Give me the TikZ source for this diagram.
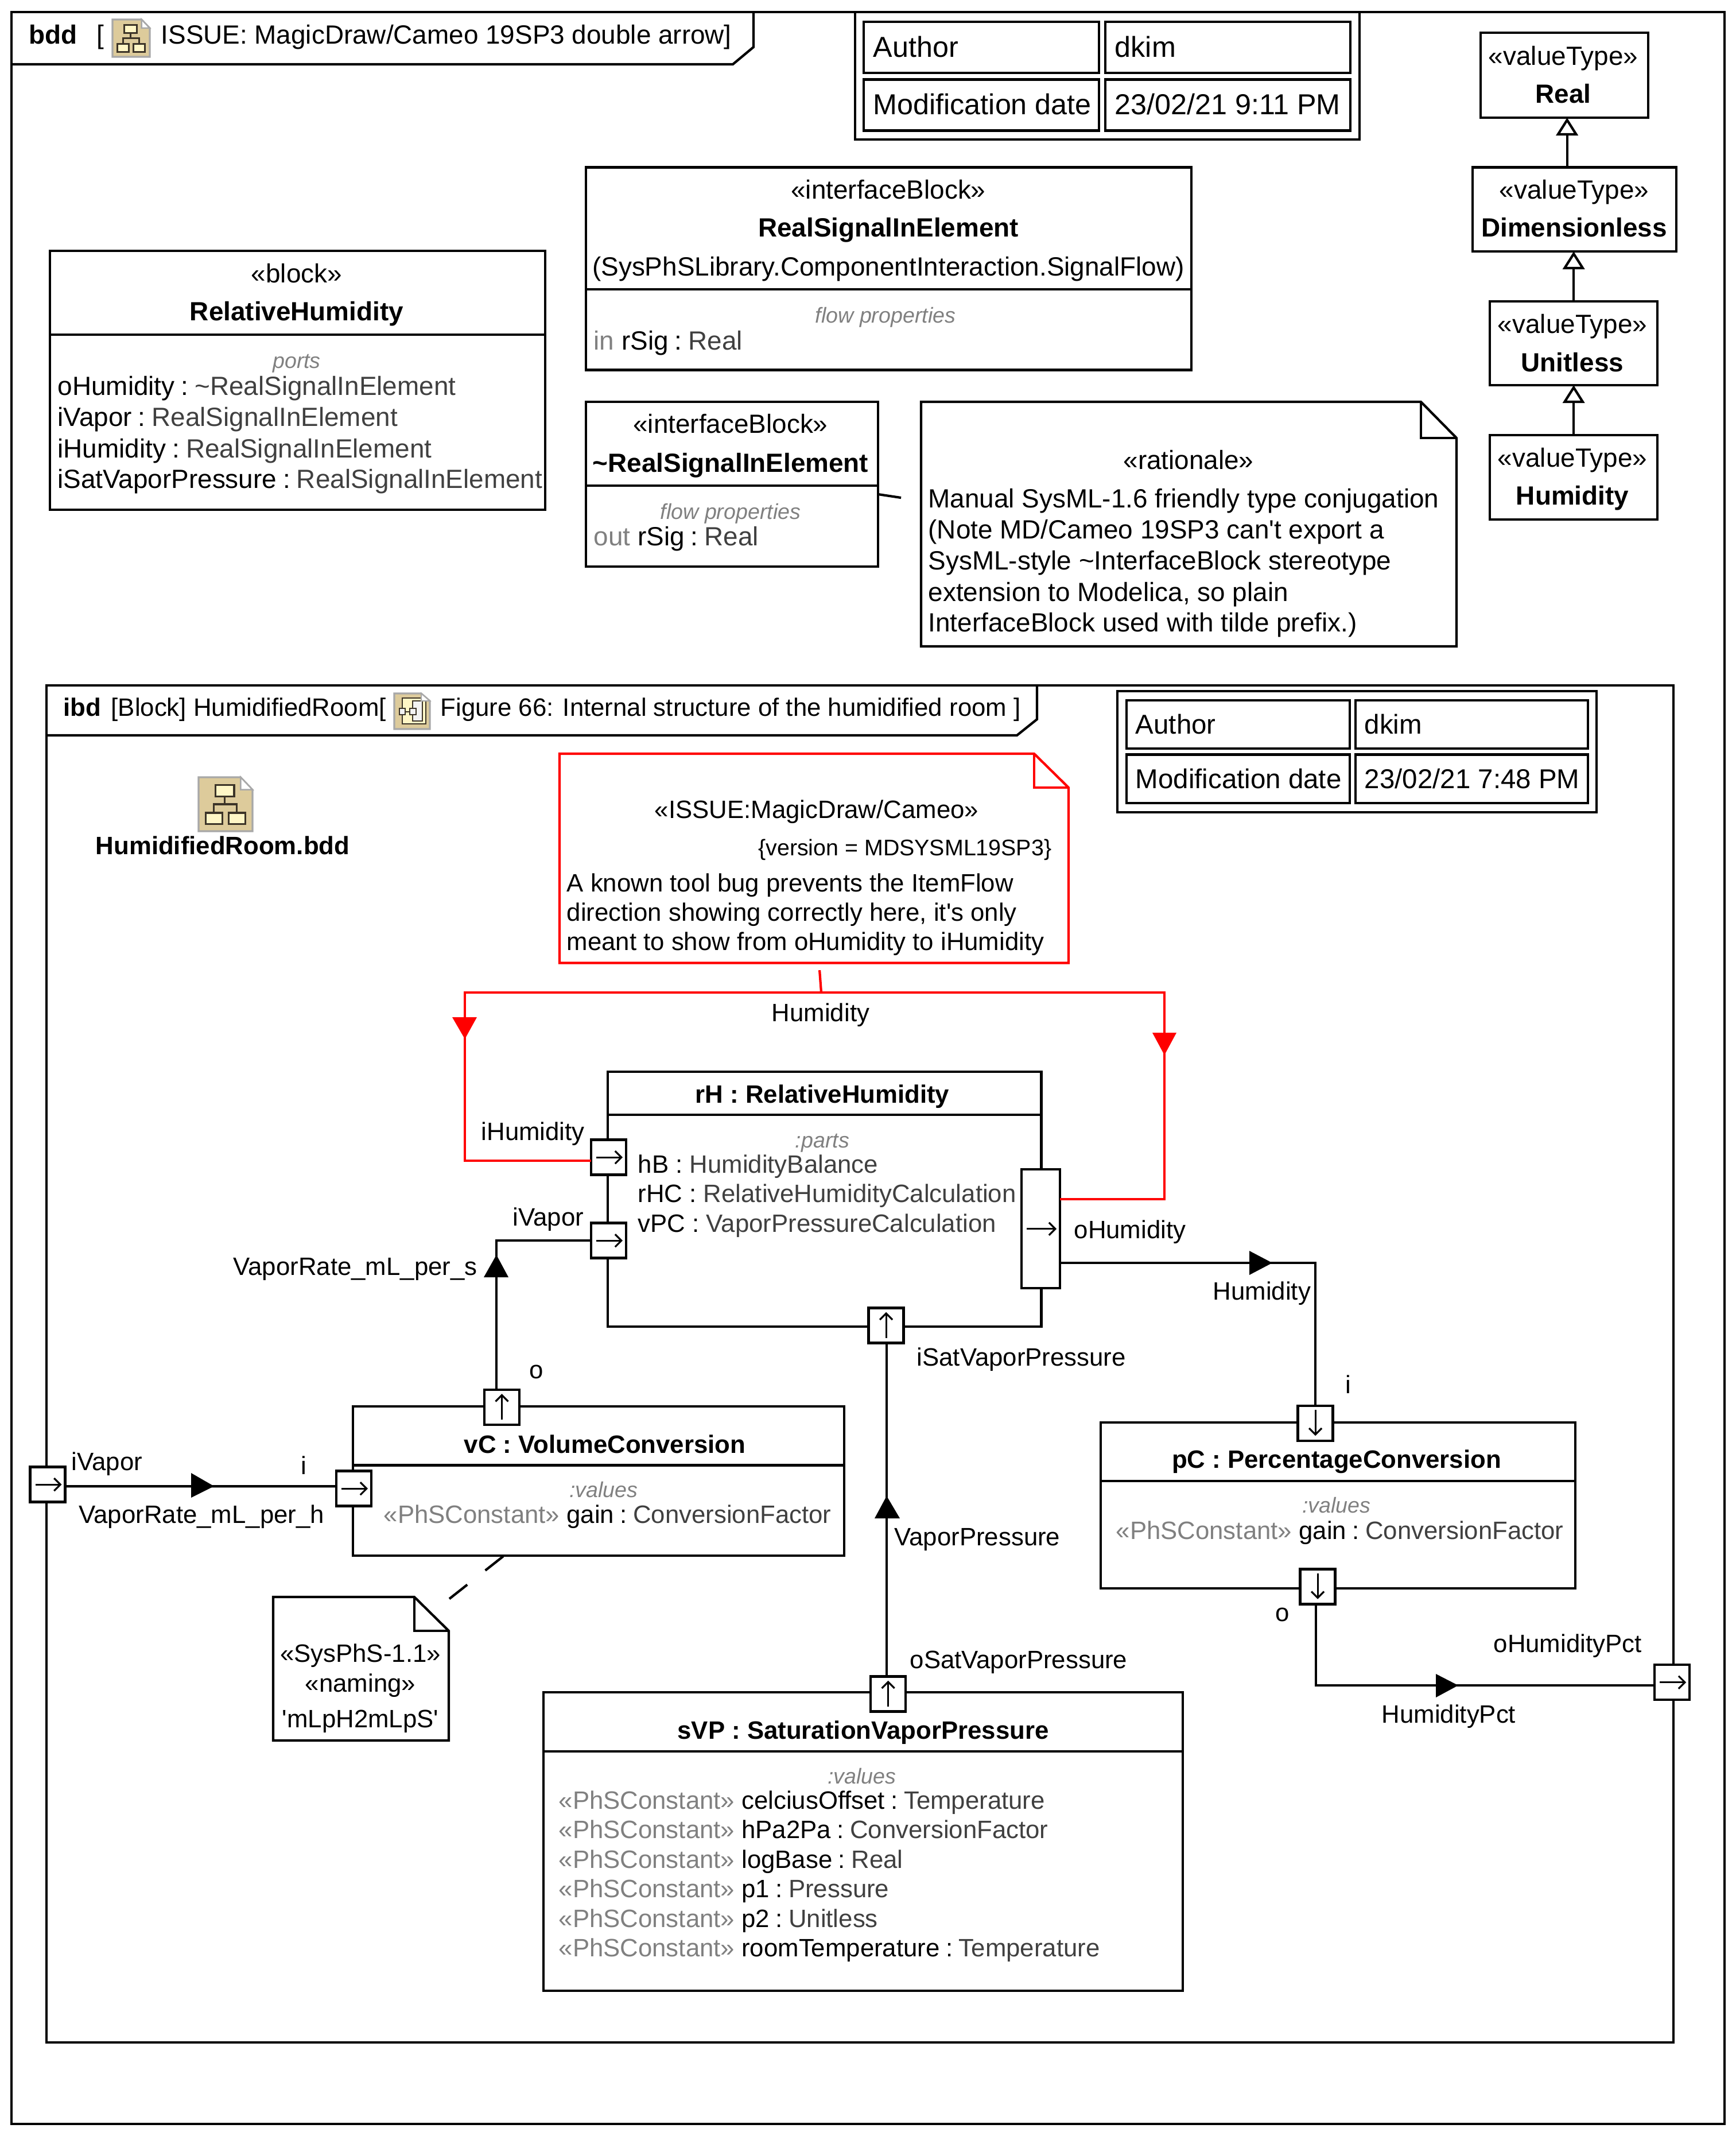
\documentclass[tikz,border=0pt]{standalone}
\usepackage{fontspec}
\setmainfont{Liberation Sans}
\usetikzlibrary{arrows.meta}
\definecolor{tygray}{HTML}{404040}
\definecolor{kwgray}{HTML}{808080}
\definecolor{icontan}{HTML}{DDCB9B}
\definecolor{iconedge}{HTML}{A8A8A8}
\definecolor{iconbox}{HTML}{FFF6C6}
\definecolor{iconline}{HTML}{3C3428}
\newcommand{\ty}[1]{\textcolor{tygray}{#1}}
\newcommand{\kw}[1]{\textcolor{kwgray}{#1}}
\newcommand{\cl}{\hspace{.24em}:\hspace{.24em}}
\tikzset{
  txt/.style={inner sep=0pt,text height=4.3mm,text depth=1mm,font=\fontsize{13.05}{15}\selectfont},
  bold/.style={txt,font=\fontsize{13.05}{15}\selectfont\bfseries},
  itxt/.style={txt,font=\fontsize{12.45}{15}\selectfont},
  ibold/.style={txt,font=\fontsize{12.45}{15}\selectfont\bfseries},
  small/.style={txt,font=\fontsize{10.7}{12}\selectfont\itshape,text=kwgray},
  tbla/.style={txt,anchor=west,font=\fontsize{14.3}{16}\selectfont},
  tblb/.style={txt,anchor=west,font=\fontsize{13.5}{16}\selectfont},
  wire/.style={line width=1.2pt},
  box/.style={draw,line width=1.2pt,inner sep=0pt,outer sep=0pt,anchor=north west},
  portbox/.style={draw,fill=white,line width=1.2pt,inner sep=0pt,outer sep=0pt,minimum width=6.1mm,minimum height=6.1mm},
  portarrow/.style={line width=.9pt,-{Straight Barb[length=1.1mm,width=2.2mm]}},
  gen/.style={line width=1.2pt,-{Triangle[open,fill=white,length=3.1mm,width=3.8mm,line width=1.2pt]}},
  bddicon/.pic={
    \draw[iconedge,fill=icontan,line width=.9pt] (0,0) -- (7.8,0) -- (10,-2.3) -- (10,-10) -- (0,-10) -- cycle;
    \draw[iconedge,fill=white,line width=.7pt] (7.8,0) -- (7.8,-2.3) -- (10,-2.3) -- cycle;
    \draw[iconline,line width=.9pt] (4.85,-3.6) -- (4.85,-5) (2.85,-6.6) -- (2.85,-5) -- (7.1,-5) -- (7.1,-6.6);
    \draw[iconline,fill=iconbox,line width=.9pt] (3.1,-1.4) rectangle (6.6,-3.6) (1.3,-6.6) rectangle (4.4,-8.7) (5.6,-6.6) rectangle (8.7,-8.7);
  }
}
\begin{document}
\begin{tikzpicture}[scale=0.1]
\useasboundingbox (0,0) rectangle (302.5,-372.1);
\draw[wire] (2,-2.1) rectangle (300.5,-370);
\draw[wire] (2,-11.2) -- (127.7,-11.2) -- (131.3,-8.2) -- (131.3,-2.1);
\node[bold,anchor=west] (bddKind) at (5,-6) {bdd};
\node[txt,anchor=west] (bddOpen) at (16.8,-6) {[};
\pic at (19.6,-3.4) [scale=.065] {bddicon};
\node[txt,anchor=west] (bddTitle) at (28,-6) {ISSUE: MagicDraw/Cameo 19SP3 double arrow]};

\node[box,minimum width=87.9mm,minimum height=22.2mm] (tblA) at (149,-2.1) {};
\node[box,minimum width=41mm,minimum height=8.9mm] (tblAa) at (150.5,-3.8) {};
\node[box,minimum width=42.7mm,minimum height=8.9mm] (tblAb) at (192.6,-3.8) {};
\node[box,minimum width=41mm,minimum height=8.9mm] (tblAc) at (150.5,-13.85) {};
\node[box,minimum width=42.7mm,minimum height=8.9mm] (tblAd) at (192.6,-13.85) {};
\node[tbla] (tblAat) at ([xshift=1.6cm]tblAa.west) {Author};
\node[tbla] (tblAbt) at ([xshift=1.6cm]tblAb.west) {dkim};
\node[tbla] (tblAct) at ([xshift=1.6cm]tblAc.west) {Modification date};
\node[tbla] (tblAdt) at ([xshift=1.6cm]tblAd.west) {23/02/21 9:11 PM};

\node[box,minimum width=86.3mm,minimum height=45.1mm] (bRel) at (8.7,-43.7) {};
\draw[wire] (bRel.west |- 0,-58.3) -- (bRel.east |- 0,-58.3);
\node[txt] (bRelS) at (51.7,-47.6) {«block»};
\node[bold] (bRelN) at (51.7,-54.2) {RelativeHumidity};
\node[small] (bRelC) at (51.7,-62.5) {ports};
\node[txt,anchor=west] (bRelA) at (10,-67.2) {oHumidity\cl\ty{\textasciitilde RealSignalInElement}};
\node[txt,anchor=west] (bRelB) at (10,-72.6) {iVapor\cl\ty{RealSignalInElement}};
\node[txt,anchor=west] (bRelD) at (10,-78.1) {iHumidity\cl\ty{RealSignalInElement}};
\node[txt,anchor=west] (bRelE) at (10,-83.4) {iSatVaporPressure\cl\ty{RealSignalInElement}};

\node[box,minimum width=105.5mm,minimum height=35.3mm] (ifA) at (102.1,-29.15) {};
\draw[wire] (ifA.west |- 0,-50.4) -- (ifA.east |- 0,-50.4);
\node[txt] (ifAs) at (154.8,-33) {«interfaceBlock»};
\node[bold] (ifAn) at (154.8,-39.6) {RealSignalInElement};
\node[txt] (ifAq) at (154.8,-46.4) {(SysPhSLibrary.ComponentInteraction.SignalFlow)};
\node[small] (ifAc) at (154.3,-54.6) {flow properties};
\node[txt,anchor=west] (ifAp) at (103.4,-59.3) {\kw{in} rSig\cl\ty{Real}};

\node[box,minimum width=50.9mm,minimum height=28.7mm] (ifB) at (102.1,-70) {};
\draw[wire] (ifB.west |- 0,-84.6) -- (ifB.east |- 0,-84.6);
\node[txt] (ifBs) at (127.3,-73.8) {«interfaceBlock»};
\node[bold] (ifBn) at (127.3,-80.6) {\textasciitilde RealSignalInElement};
\node[small] (ifBc) at (127.3,-88.8) {flow properties};
\node[txt,anchor=west] (ifBp) at (103.4,-93.4) {\kw{out} rSig\cl\ty{Real}};

\draw[wire] (160.5,-70) -- (247.6,-70) -- (253.8,-76.3) -- (253.8,-112.6) -- (160.5,-112.6) -- cycle;
\draw[wire] (247.6,-70) -- (247.6,-76.3) -- (253.8,-76.3);
\coordinate (ratEnd) at (157,-86.7);
\draw[wire] (ifB.east |- 0,-86.1) -- (ratEnd);
\node[txt] (ratS) at (207.1,-80.1) {«rationale»};
\node[txt,anchor=west] (ratA) at (161.7,-86.8) {Manual SysML-1.6 friendly type conjugation};
\node[txt,anchor=west] (ratB) at (161.7,-92.2) {(Note MD/Cameo 19SP3 can\textquotesingle t export a};
\node[txt,anchor=west] (ratC) at (161.7,-97.6) {SysML-style \textasciitilde InterfaceBlock stereotype};
\node[txt,anchor=west] (ratD) at (161.7,-103.1) {extension to Modelica, so plain};
\node[txt,anchor=west] (ratE) at (161.7,-108.4) {InterfaceBlock used with tilde prefix.)};

\node[box,minimum width=29.2mm,minimum height=14.8mm] (vtReal) at (258,-5.7) {};
\node[txt] (vtRealS) at (272.4,-9.7) {«valueType»};
\node[bold] (vtRealN) at (272.4,-16.3) {Real};
\node[box,minimum width=35.5mm,minimum height=14.65mm] (vtDim) at (256.6,-29.15) {};
\node[txt] (vtDimS) at (274.3,-33) {«valueType»};
\node[bold] (vtDimN) at (274.3,-39.6) {Dimensionless};
\node[box,minimum width=29.2mm,minimum height=14.6mm] (vtUni) at (259.6,-52.5) {};
\node[txt] (vtUniS) at (274,-56.4) {«valueType»};
\node[bold] (vtUniN) at (274,-63.1) {Unitless};
\node[box,minimum width=29.2mm,minimum height=14.7mm] (vtHum) at (259.6,-75.8) {};
\node[txt] (vtHumS) at (274,-79.7) {«valueType»};
\node[bold] (vtHumN) at (274,-86.3) {Humidity};
\draw[gen] ([xshift=-1.3cm]vtDim.north) -- ([xshift=-1.3cm]vtDim.north |- vtReal.south);
\draw[gen] (vtUni.north) -- (vtUni.north |- vtDim.south);
\draw[gen] (vtHum.north) -- (vtHum.north |- vtUni.south);

\draw[wire] (8.1,-119.4) rectangle (291.6,-355.8);
\draw[wire] (8.1,-128.1) -- (177.2,-128.1) -- (180.7,-125.3) -- (180.7,-119.4);
\node[ibold,anchor=west] (ibdKind) at (11,-123.1) {ibd};
\node[itxt,anchor=west] (ibdHead) at (19.3,-123.1) {[Block] HumidifiedRoom[};
\draw[iconedge,fill=icontan,line width=.9pt] (68.7,-120.8) -- (73.4,-120.8) -- (74.9,-122.1) -- (74.9,-127) -- (68.7,-127) -- cycle;
\draw[iconline,fill=iconbox,line width=.7pt] (70.1,-121.6) rectangle (74.2,-126.1);
\draw[iconline,fill=white!95!black,line width=.7pt] (71.9,-122.1) rectangle (73.6,-125.6);
\draw[iconline,line width=.7pt] (70.6,-124) -- (71.4,-124);
\draw[iconline,fill=white!95!black,line width=.7pt] (69.6,-123.4) rectangle (70.6,-124.5) (71.4,-123.4) rectangle (72.5,-124.5);
\draw[iconedge,fill=white,line width=.6pt] (73.4,-120.8) -- (73.4,-122.1) -- (74.9,-122.1) -- cycle;
\node[itxt,anchor=west] (ibdTitle) at (76.7,-123.1) {Figure 66: Internal structure of the humidified room ]};

\node[box,minimum width=83.5mm,minimum height=21.1mm] (tblB) at (194.7,-120.4) {};
\node[box,minimum width=38.9mm,minimum height=8.4mm] (tblBa) at (196.3,-122) {};
\node[box,minimum width=40.5mm,minimum height=8.4mm] (tblBb) at (236.2,-122) {};
\node[box,minimum width=38.9mm,minimum height=8.45mm] (tblBc) at (196.3,-131.45) {};
\node[box,minimum width=40.5mm,minimum height=8.45mm] (tblBd) at (236.2,-131.45) {};
\node[tblb] (tblBat) at ([xshift=1.5cm]tblBa.west) {Author};
\node[tblb] (tblBbt) at ([xshift=1.5cm]tblBb.west) {dkim};
\node[tblb] (tblBct) at ([xshift=1.5cm]tblBc.west) {Modification date};
\node[tblb] (tblBdt) at ([xshift=1.5cm]tblBd.west) {23/02/21 7:48 PM};

\pic at (34.6,-135.4) [scale=.094] {bddicon};
\node[ibold] (iconRoom) at (38.8,-147.2) {HumidifiedRoom.bdd};

\draw[red,wire] (97.5,-131.3) -- (180.2,-131.3) -- (186.2,-137.2) -- (186.2,-167.75) -- (97.5,-167.75) -- cycle;
\draw[red,wire] (180.2,-131.3) -- (180.2,-137.2) -- (186.2,-137.2);
\node[itxt] (bugS) at (142.3,-140.9) {«ISSUE:MagicDraw/Cameo»};
\node[txt,font=\fontsize{11.2}{13}\selectfont,anchor=east] (bugV) at (183.3,-147.35) {\{version = MDSYSML19SP3\}};
\node[itxt,anchor=west] (bugA) at (98.7,-153.65) {A known tool bug prevents the ItemFlow};
\node[itxt,anchor=west] (bugB) at (98.7,-158.8) {direction showing correctly here, it\textquotesingle s only};
\node[itxt,anchor=west] (bugC) at (98.7,-163.9) {meant to show from oHumidity to iHumidity};

\node[box,minimum width=75.55mm,minimum height=44.4mm] (bRH) at (105.9,-186.7) {};
\draw[wire] (bRH.west |- 0,-194.2) -- (bRH.east |- 0,-194.2);
\node[ibold] (bRHn) at (143.3,-190.5) {rH : RelativeHumidity};
\node[small] (bRHc) at (143.3,-198.3) {:parts};
\node[itxt,anchor=west] (bRHa) at (111.1,-202.7) {hB : \ty{HumidityBalance}};
\node[itxt,anchor=west] (bRHb) at (111.1,-207.8) {rHC : \ty{RelativeHumidityCalculation}};
\node[itxt,anchor=west] (bRHd) at (111.1,-213) {vPC : \ty{VaporPressureCalculation}};

\node[box,minimum width=85.6mm,minimum height=26mm] (bVC) at (61.5,-245) {};
\draw[wire] (bVC.west |- 0,-255.25) -- (bVC.east |- 0,-255.25);
\node[ibold] (bVCn) at (105.4,-251.5) {vC : VolumeConversion};
\node[small] (bVCc) at (105.2,-259.2) {:values};
\node[itxt,anchor=west] (bVCa) at (66.8,-263.7) {\kw{«PhSConstant»} gain\cl\ty{ConversionFactor}};

\node[box,minimum width=82.7mm,minimum height=28.9mm] (bPC) at (191.8,-247.8) {};
\draw[wire] (bPC.west |- 0,-258) -- (bPC.east |- 0,-258);
\node[ibold] (bPCn) at (232.9,-254.1) {pC : PercentageConversion};
\node[small] (bPCc) at (232.9,-261.9) {:values};
\node[itxt,anchor=west] (bPCa) at (194.4,-266.45) {\kw{«PhSConstant»} gain\cl\ty{ConversionFactor}};

\node[box,minimum width=111.4mm,minimum height=52mm] (bSV) at (94.7,-294.8) {};
\draw[wire] (bSV.west |- 0,-305.1) -- (bSV.east |- 0,-305.1);
\node[ibold] (bSVn) at (150.4,-301.3) {sVP : SaturationVaporPressure};
\node[small] (bSVc) at (150.2,-309.1) {:values};
\node[itxt,anchor=west] (bSVa) at (97.3,-313.5) {\kw{«PhSConstant»} celciusOffset\cl\ty{Temperature}};
\node[itxt,anchor=west] (bSVb) at (97.3,-318.6) {\kw{«PhSConstant»} hPa2Pa\cl\ty{ConversionFactor}};
\node[itxt,anchor=west] (bSVd) at (97.3,-323.8) {\kw{«PhSConstant»} logBase\cl\ty{Real}};
\node[itxt,anchor=west] (bSVe) at (97.3,-328.9) {\kw{«PhSConstant»} p1\cl\ty{Pressure}};
\node[itxt,anchor=west] (bSVf) at (97.3,-334.1) {\kw{«PhSConstant»} p2\cl\ty{Unitless}};
\node[itxt,anchor=west] (bSVg) at (97.3,-339.2) {\kw{«PhSConstant»} roomTemperature\cl\ty{Temperature}};

\node[portbox] (pIH) at (106.05,-201.6) {};
\node[portbox] (pIV) at (106.05,-216.1) {};
\node[portbox,minimum width=6.7mm,minimum height=20.7mm] (pOH) at (181.35,-214.05) {};
\node[portbox] (pIS) at (154.4,-230.9) {};
\node[portbox] (pVCo) at (87.45,-245.15) {};
\node[portbox] (pVCi) at (61.65,-259.3) {};
\node[portbox] (pFi) at (8.3,-258.6) {};
\node[portbox] (pPCi) at (229.2,-247.95) {};
\node[portbox] (pPCo) at (229.6,-276.4) {};
\node[portbox] (pSV) at (154.75,-295.1) {};
\node[portbox] (pFo) at (291.35,-293.05) {};
\foreach \p in {pIH,pIV,pOH,pVCi,pFi,pFo} {
\draw[portarrow] ([xshift=.9cm]\p.west) -- ([xshift=-.6cm]\p.east);
}
\foreach \p in {pIS,pVCo,pSV} {
\draw[portarrow] ([yshift=.9cm]\p.south) -- ([yshift=-.7cm]\p.north);
}
\foreach \p in {pPCi,pPCo} {
\draw[portarrow] ([yshift=-.7cm]\p.north) -- ([yshift=.9cm]\p.south);
}

\coordinate (redL) at (81,-172.9);
\coordinate (redR) at (202.9,-172.9);
\coordinate (bugTop) at (142.8,-169);
\draw[red,wire] ([yshift=5.15cm]pOH.east) -| (redR) -- (redL) |- ([yshift=-.6cm]pIH.west);
\draw[red,wire] (bugTop) -- (143.1,-172.9);
\fill[red] (78.8,-177.2) -- (83.1,-177.2) -- (81,-181) -- cycle;
\fill[red] (200.8,-179.9) -- (205,-179.9) -- (202.9,-183.8) -- cycle;
\node[itxt] (lbRed) at (143,-176.3) {Humidity};
\node[itxt,anchor=west] (lbIH) at (83.8,-197) {iHumidity};

\draw[wire] ([xshift=-.95cm]pVCo.north) |- (pIV.west);
\fill (84.3,-222.5) -- (88.6,-222.5) -- (86.5,-218.6) -- cycle;
\node[itxt,anchor=west] (lbIV) at (89.3,-211.9) {iVapor};
\node[itxt,anchor=west] (lbRS) at (40.6,-220.5) {VaporRate\_mL\_per\_s};
\node[itxt,anchor=west] (lbVo) at (92.2,-238.5) {o};

\draw[wire] ([yshift=-5.95cm]pOH.east) -| (pPCi.north);
\fill (217.7,-217.9) -- (217.7,-222.1) -- (221.7,-220) -- cycle;
\node[itxt,anchor=west] (lbOH) at (187.1,-214.1) {oHumidity};
\node[itxt,anchor=west] (lbHu) at (211.3,-224.8) {Humidity};
\node[itxt,anchor=west] (lbPi) at (234.4,-241.1) {i};

\draw[wire] ([xshift=-.25cm]pSV.north) -- ([xshift=-.25cm]pSV.north |- pIS.south);
\fill (152.4,-264.5) -- (156.8,-264.5) -- (154.5,-260.6) -- cycle;
\node[itxt,anchor=west] (lbIS) at (159.7,-236.3) {iSatVaporPressure};
\node[itxt,anchor=west] (lbVP) at (155.8,-267.6) {VaporPressure};
\node[itxt,anchor=west] (lbOS) at (158.5,-289) {oSatVaporPressure};

\draw[wire] ([yshift=-.3cm]pFi.east) -- ([yshift=.4cm]pVCi.west);
\fill (33.3,-256.6) -- (33.3,-260.9) -- (37.3,-258.9) -- cycle;
\node[itxt,anchor=west] (lbFi) at (12.4,-254.5) {iVapor};
\node[itxt,anchor=west] (lbVi) at (52.4,-255.2) {i};
\node[itxt,anchor=west] (lbRH) at (13.7,-263.7) {VaporRate\_mL\_per\_h};

\draw[wire] ([xshift=-.3cm]pPCo.south) |- ([yshift=-.55cm]pFo.west);
\fill (250.2,-291.6) -- (250.2,-295.7) -- (254.1,-293.6) -- cycle;
\node[itxt,anchor=west] (lbPo) at (222.2,-280.8) {o};
\node[itxt,anchor=west] (lbPct) at (240.7,-298.5) {HumidityPct};
\node[itxt,anchor=west] (lbOP) at (260.2,-286.2) {oHumidityPct};

\draw[wire] (47.6,-278.2) -- (72.2,-278.2) -- (78.2,-284.1) -- (78.2,-303.2) -- (47.6,-303.2) -- cycle;
\draw[wire] (72.2,-278.2) -- (72.2,-284.1) -- (78.2,-284.1);
\coordinate (namEnd) at (78.3,-278.5);
\draw[wire,dash pattern=on 4mm off 4mm] (87.7,-271.1) -- (namEnd);
\node[itxt] (namA) at (62.8,-287.85) {«SysPhS-1.1»};
\node[itxt] (namB) at (62.8,-293.1) {«naming»};
\node[itxt] (namC) at (62.8,-299.3) {\textquotesingle mLpH2mLpS\textquotesingle};
\end{tikzpicture}
\end{document}
